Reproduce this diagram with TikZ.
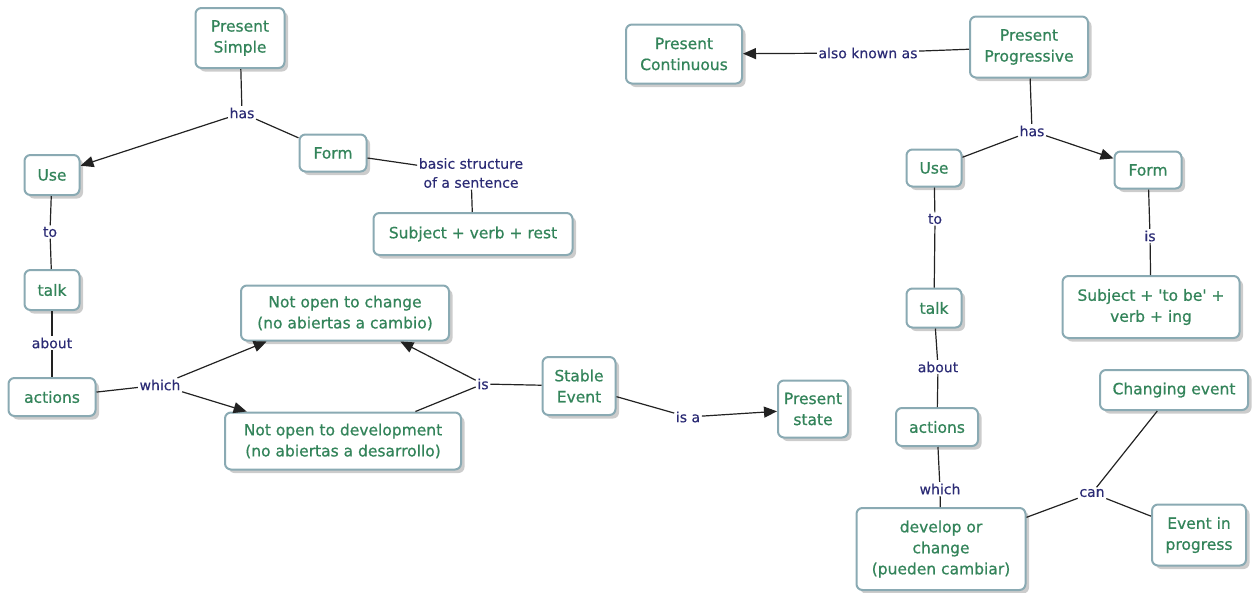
\documentclass[tikz,border=0pt]{standalone}
\usepackage{fontspec}
\setmainfont{DejaVu Sans}[Ligatures=TeXOff]
\newfontfamily\conceptfont{DejaVu Sans}[Ligatures=TeXOff, FakeBold=0.7]
\newfontfamily\linkfont{DejaVu Sans}[Ligatures=TeXOff, FakeBold=0.3]
\usetikzlibrary{shadows,arrows.meta}
\definecolor{conceptgreen}{HTML}{33845A}
\definecolor{linknavy}{HTML}{2B2B75}
\definecolor{boxedge}{HTML}{8AAAB3}
\definecolor{wire}{HTML}{222222}

\begin{document}
\begin{tikzpicture}[x=1pt,y=-1pt,
  concept/.style 2 args={draw=boxedge, line width=2pt, fill=white,
    rounded corners=6pt, minimum width=#1pt, minimum height=#2pt,
    inner sep=0pt, align=center, text=conceptgreen,
    font=\conceptfont\fontsize{15.5}{21}\selectfont,
    drop shadow={shadow xshift=3.5pt, shadow yshift=-3.5pt, fill=black!20, opacity=1}},
  linklabel/.style={text=linknavy, font=\linkfont\fontsize{14}{19}\selectfont,
    inner sep=1.5pt, align=center, fill=white},
  link/.style={draw=wire, line width=1.2pt},
  linkarrow/.style={link, -{Triangle[length=13pt,width=11pt]}}]

\useasboundingbox (0,0) rectangle (1257,592);

% ---------- Present Simple ----------
\node[concept={89}{60}] (ps)     at (240,38)  {Present\\Simple};
\node[concept={55}{40}] (useL)   at (52,175)  {Use};
\node[concept={67}{37}] (formL)  at (333,153) {Form};
\node[concept={199}{42}] (svr)   at (473,234) {Subject + verb + rest};
\node[concept={55}{40}] (talkL)  at (52,290)  {talk};
\node[concept={87}{38}] (actL)   at (52,397)  {actions};
\node[concept={208}{55}] (noc)   at (345,313) {Not open to change\\(no abiertas a cambio)};
\node[concept={236}{57}] (nod)   at (343,441) {Not open to development\\(no abiertas a desarrollo)};
\node[concept={73}{58}] (stable) at (579,386) {Stable\\Event};
\node[concept={70}{57}] (pstate) at (813,409) {Present\\state};

% ---------- Present Progressive ----------
\node[concept={116}{59}] (pcont) at (684,54)   {Present\\Continuous};
\node[concept={118}{61}] (pprog) at (1029,47)  {Present\\Progressive};
\node[concept={55}{37}] (useR)   at (934,168)  {Use};
\node[concept={67}{37}] (formR)  at (1148,170) {Form};
\node[concept={55}{39}] (talkR)  at (934,308)  {talk};
\node[concept={177}{62}] (subjR) at (1151,307) {Subject + 'to be' +\\verb + ing};
\node[concept={82}{38}] (actR)   at (937,427)  {actions};
\node[concept={148}{40}] (chg)   at (1174,390) {Changing event};
\node[concept={94}{61}] (evp)    at (1199,535) {Event in\\progress};
\node[concept={169}{82}] (dev)   at (941,549)  {develop or\\change\\(pueden cambiar)};

% ---------- linking phrases ----------
\node[linklabel] (hasL)   at (242,113) {has};
\node[linklabel] (bss)    at (471,173) {basic structure\\of a sentence};
\node[linklabel] (toL)    at (50,232)  {to};
\node[linklabel] (aboutL) at (52,343)  {about};
\node[linklabel] (whichL) at (160,385) {which};
\node[linklabel] (isL)    at (483,384) {is};
\node[linklabel] (isa)    at (688,417) {is a};
\node[linklabel] (akas)   at (868,53)  {also known as};
\node[linklabel] (hasR)   at (1032,131) {has};
\node[linklabel] (toR)    at (935,219) {to};
\node[linklabel] (isR)    at (1150,236) {is};
\node[linklabel] (aboutR) at (938,367) {about};
\node[linklabel] (whichR) at (940,489) {which};
\node[linklabel] (can)    at (1092,493) {can};

% ---------- connectors, left map ----------
\draw[link] (ps) -- (hasL);
\draw[linkarrow] (hasL) -- (useL);
\draw[link] (hasL) -- (formL);
\draw[link] (formL) -- (bss);
\draw[link] (bss) -- (svr);
\draw[link] (useL) -- (toL);
\draw[link] (toL) -- (talkL);
\draw[link] (talkL) -- (aboutL);
\draw[link] (aboutL) -- (actL);
\draw[link] (actL) -- (whichL);
\draw[linkarrow] (whichL) -- (noc.200);
\draw[linkarrow] (whichL) -- (nod);
\draw[link] (stable) -- (isL);
\draw[linkarrow] (isL) -- (noc);
\draw[link] (isL) -- (nod);
\draw[link] (stable) -- (isa);
\draw[linkarrow] (isa) -- (pstate);

% ---------- connectors, right map ----------
\draw[link] (pprog) -- (akas);
\draw[linkarrow] (akas) -- (pcont);
\draw[link] (pprog) -- (hasR);
\draw[link] (hasR) -- (useR);
\draw[linkarrow] (hasR) -- (formR);
\draw[link] (useR) -- (toR);
\draw[link] (toR) -- (talkR);
\draw[link] (formR) -- (isR);
\draw[link] (isR) -- (subjR);
\draw[link] (talkR) -- (aboutR);
\draw[link] (aboutR) -- (actR);
\draw[link] (actR) -- (whichR);
\draw[link] (whichR) -- (dev);
\draw[link] (dev) -- (can);
\draw[link] (can) -- (chg);
\draw[link] (can) -- (evp);
\end{tikzpicture}
\end{document}
